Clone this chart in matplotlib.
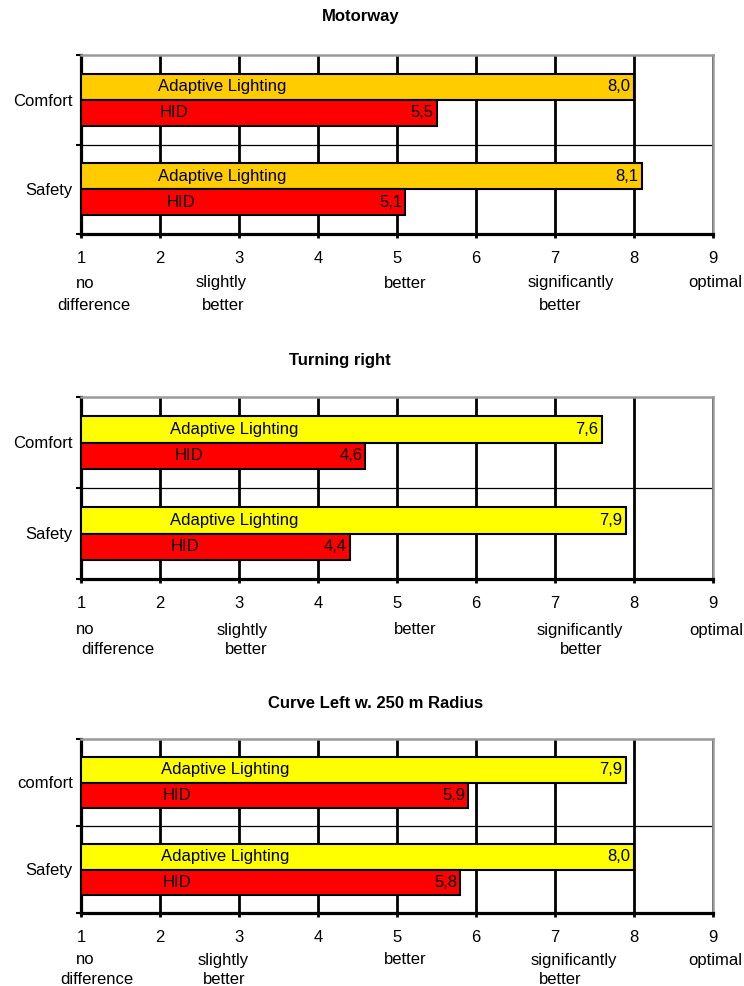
import matplotlib.pyplot as plt
from matplotlib.ticker import FixedLocator

plt.rcParams['font.family'] = ['Liberation Sans', 'DejaVu Sans']

# survey results, 1 = no difference ... 9 = optimal
titles = ["Motorway", "Turning right", "Curve Left w. 250 m Radius"]
categories = [["Comfort", "Safety"], ["Comfort", "Safety"], ["comfort", "Safety"]]
adaptive = [[8.0, 8.1], [7.6, 7.9], [7.9, 8.0]]
hid = [[5.5, 5.1], [4.6, 4.4], [5.9, 5.8]]
series_names = ["Adaptive Lighting", "HID"]
scale_ticks = [1, 2, 3, 4, 5, 6, 7, 8, 9]
scale_words = ["no", "difference", "slightly", "better", "better",
               "significantly", "better", "optimal"]

# layout (pixels on a 744 x 986 canvas)
W, H = 744.0, 986.0
ax_left, ax_right = 81, 713
ax_top = [55, 397, 739]
ax_bottom = [234, 579, 913]
title_pos = [(361, 16), (340, 361), (376, 703)]
adaptive_colors = ["#FFCC00", "#FFFF00", "#FFFF00"]
hid_color = "#FF0000"
# x start (data units) of the name written in each bar: [adaptive..], [hid..]
name_x = [([1.97, 1.97], [1.99, 2.08]),
          ([2.13, 2.13], [2.19, 2.14]),
          ([2.01, 2.01], [2.03, 2.03])]
# scale words: x in data units, and which line (0 / 1) below the numbers
word_x = [[1.05, 1.16, 2.78, 2.80, 5.10, 7.20, 7.06, 9.03],
          [1.05, 1.46, 3.04, 3.09, 5.23, 7.32, 7.33, 9.04],
          [1.05, 1.20, 2.80, 2.81, 5.10, 7.24, 7.06, 9.03]]
word_line = [0, 1, 0, 1, 0, 0, 1, 0]
line_off = [(49, 71), (51, 71), (47, 66)]

FS = 12
bar_h = 0.29
px = 0.72  # points per pixel at dpi 100

fig = plt.figure(figsize=(7.44, 9.86), dpi=100)

for p in range(3):
    ax = fig.add_axes([ax_left / W, 1 - ax_bottom[p] / H,
                       (ax_right - ax_left) / W, (ax_bottom[p] - ax_top[p]) / H])
    ypos = list(range(len(categories[p])))
    y_ad = [y - bar_h / 2 for y in ypos]
    y_hid = [y + bar_h / 2 for y in ypos]
    ad_w = [v - 1 for v in adaptive[p]]
    hid_w = [v - 1 for v in hid[p]]

    ax.barh(y_ad, ad_w, left=1, height=bar_h, color=adaptive_colors[p],
            edgecolor="black", linewidth=1.5, zorder=3)
    ax.barh(y_hid, hid_w, left=1, height=bar_h, color=hid_color,
            edgecolor="black", linewidth=1.5, zorder=3)

    for i in ypos:
        ax.text(name_x[p][0][i], y_ad[i], series_names[0], fontsize=FS,
                ha="left", va="center", zorder=4)
        ax.text(name_x[p][1][i], y_hid[i], series_names[1], fontsize=FS,
                ha="left", va="center", zorder=4)
        ax.annotate(f"{adaptive[p][i]:.1f}".replace(".", ","), (adaptive[p][i], y_ad[i]),
                    xytext=(-4 * px, 0), textcoords="offset points",
                    fontsize=FS, ha="right", va="center", zorder=4)
        ax.annotate(f"{hid[p][i]:.1f}".replace(".", ","), (hid[p][i], y_hid[i]),
                    xytext=(-3 * px, 0), textcoords="offset points",
                    fontsize=FS, ha="right", va="center", zorder=4)

    ax.set_xlim(1, 9)
    ax.set_ylim(len(ypos) - 0.5, -0.5)

    ax.set_xticks(scale_ticks)
    ax.set_xticklabels([str(t) for t in scale_ticks], fontsize=FS)
    ax.tick_params(axis="x", direction="out", length=4 * px, width=2, pad=13 * px)

    ax.set_yticks(ypos)
    ax.set_yticklabels(categories[p], fontsize=FS)
    ax.tick_params(axis="y", which="major", length=0, pad=8 * px)
    ax.yaxis.set_minor_locator(FixedLocator([-0.5, 0.5, 1.5]))
    ax.tick_params(axis="y", which="minor", direction="out", length=5 * px, width=1.5)

    ax.set_axisbelow(True)
    ax.grid(axis="x", color="black", linewidth=2.0)
    ax.axhline(0.5, color="black", linewidth=0.9, zorder=1)

    for side in ["left", "bottom"]:
        ax.spines[side].set_color("black")
        ax.spines[side].set_linewidth(2.3)
    for side in ["top", "right"]:
        ax.spines[side].set_color("#9a9a9a")
        ax.spines[side].set_linewidth(1.8)

    for k, w in enumerate(scale_words):
        off = line_off[p][word_line[k]]
        ax.annotate(w, (word_x[p][k], 0), xycoords=("data", "axes fraction"),
                    xytext=(0, -off * px), textcoords="offset points",
                    fontsize=FS, ha="center", va="center", annotation_clip=False)

    tx, ty = title_pos[p]
    fig.text(tx / W, 1 - ty / H, titles[p], fontsize=FS, fontweight="bold",
             ha="center", va="center")

fig.savefig("out.png", dpi=100)
